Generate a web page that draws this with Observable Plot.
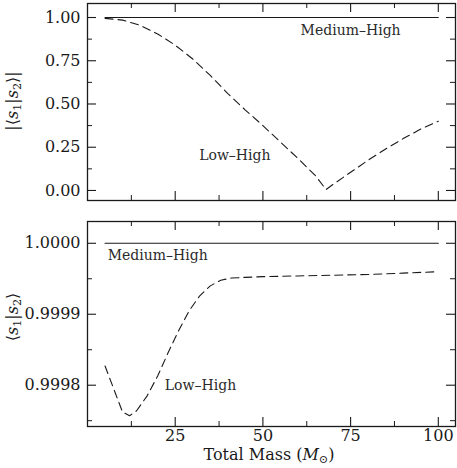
<!DOCTYPE html>
<html><head><meta charset="utf-8">
<script src="https://cdn.jsdelivr.net/npm/d3@7"></script>
<script src="https://cdn.jsdelivr.net/npm/@observablehq/plot@0.6"></script>
<style>
body{margin:0;background:#fff}
svg{display:block}
svg, svg text, svg tspan { font-family: "DejaVu Serif", "Liberation Serif", serif !important; }
</style>
</head><body><div id="chart"></div>
<script>
// ---- data ----
const topX = [5,10,15,20,25,30,35,40,45,50,55,60,65,68,70,75,80,85,90,95,100];
const topLowHigh = [0.995,0.985,0.955,0.905,0.84,0.76,0.665,0.56,0.465,0.375,0.28,0.185,0.085,0.005,0.035,0.105,0.175,0.24,0.3,0.355,0.40];
const topMedHigh = [1,1,1,1,1,1,1,1,1,1,1,1,1,1,1,1,1,1,1,1,1];

const botX = [5,8,10,12,14,17,20,23,26,29,32,35,38,41,45,50,60,70,80,90,100];
const botLowHigh = [0.999827,0.999788,0.999762,0.999757,0.999764,0.999785,0.999813,0.999846,0.999877,0.999905,0.999926,0.99994,0.999948,0.999951,0.999952,0.999953,0.999954,0.999955,0.999956,0.999958,0.99996];
const botMedHigh = [1,1,1,1,1,1,1,1,1,1,1,1,1,1,1,1,1,1,1,1,1];

const xMajor = [25,50,75,100];
const xMinor = [12.5,37.5,62.5,87.5];
const topYMajor = [0,0.25,0.5,0.75,1];
const topYMinor = [0.125,0.375,0.625,0.875];
const botYMajor = [0.9998,0.9999,1.0];
const botYMinor = [0.99975,0.99985,0.99995];

const topLabelText = ["Medium–High","Low–High"];
const topLabelX = [75,42];
const topLabelY = [0.925,0.2];
const botLabelText = ["Medium–High","Low–High"];
const botLabelX = [20,32.2];
const botLabelY = [0.999983,0.9998];

const ink = "#1a1a1a";
const FONT = "DejaVu Serif";
const W = 457, ML = 87, MR = 2;

function panel(o) {
  const H = o.height - o.marginTop - o.marginBottom;
  const PW = W - ML - MR;
  const marks = [
    Plot.ruleX(xMajor, {stroke: ink, strokeWidth: 1.1, insetBottom: H - 9}),
    Plot.ruleX(xMajor, {stroke: ink, strokeWidth: 1.1, insetTop: H - 9}),
    Plot.ruleX(xMinor, {stroke: ink, strokeWidth: 1, insetBottom: H - 5}),
    Plot.ruleX(xMinor, {stroke: ink, strokeWidth: 1, insetTop: H - 5}),
    Plot.ruleY(o.yMajor, {stroke: ink, strokeWidth: 1.1, insetRight: PW - 9}),
    Plot.ruleY(o.yMajor, {stroke: ink, strokeWidth: 1.1, insetLeft: PW - 9}),
    Plot.ruleY(o.yMinor, {stroke: ink, strokeWidth: 1, insetRight: PW - 5}),
    Plot.ruleY(o.yMinor, {stroke: ink, strokeWidth: 1, insetLeft: PW - 5}),
    Plot.axisY({ticks: o.yMajor, tickFormat: o.yFormat, tickSize: 0, tickPadding: 7, label: null, fill: ink}),
    Plot.line(o.x, {x: o.x, y: o.med, stroke: ink, strokeWidth: 1.1}),
    Plot.line(o.x, {x: o.x, y: o.low, stroke: ink, strokeWidth: 1.1, strokeDasharray: "8,5"}),
    Plot.text(o.lt, {x: o.lx, y: o.ly, text: o.lt, fontSize: 14, fill: "#2a2a2a"}),
    Plot.frame({stroke: ink, strokeWidth: 1.3})
  ];
  if (o.xAxis) marks.push(Plot.axisX({ticks: xMajor, tickFormat: d => String(d), tickSize: 0, tickPadding: 3, label: null, fill: ink}));
  return Plot.plot({
    width: W, height: o.height,
    marginLeft: ML, marginRight: MR, marginTop: o.marginTop, marginBottom: o.marginBottom,
    style: {fontFamily: FONT, fontSize: "16px", background: "#fff", color: ink},
    x: {domain: [0, 104.9], axis: o.xAxis ? undefined : null},
    y: {domain: o.yDomain},
    marks
  });
}

function mathLabel(sel, parts) {
  parts.forEach(([t, kind]) => {
    const ts = sel.append("tspan").text(t);
    if (kind === "i") ts.attr("font-style", "italic");
    if (kind === "sub") ts.attr("font-size", "0.7em").attr("baseline-shift", "-25%");
  });
}

const topPanel = panel({height: 210, marginTop: 3, marginBottom: 10,
  yDomain: [-0.058, 1.081], yMajor: topYMajor, yMinor: topYMinor, yFormat: d3.format(".2f"),
  x: topX, low: topLowHigh, med: topMedHigh, lt: topLabelText, lx: topLabelX, ly: topLabelY, xAxis: false});
const botPanel = panel({height: 258, marginTop: 11, marginBottom: 42,
  yDomain: [0.9997418, 1.0000307], yMajor: botYMajor, yMinor: botYMinor, yFormat: d3.format(".4f"),
  x: botX, low: botLowHigh, med: botMedHigh, lt: botLabelText, lx: botLabelX, ly: botLabelY, xAxis: true});

const root = document.getElementById("chart");
root.append(topPanel, botPanel);

const t1 = d3.select(topPanel).append("text")
  .attr("transform", "translate(18,101) rotate(-90)")
  .attr("text-anchor", "middle").attr("font-size", 16).attr("fill", ink);
mathLabel(t1, [["|⟨"],["s","i"],["1","sub"],["|"],["s","i"],["2","sub"],["⟩|"]]);

const t2 = d3.select(botPanel).append("text")
  .attr("transform", "translate(18,107) rotate(-90)")
  .attr("text-anchor", "middle").attr("font-size", 16).attr("fill", ink);
mathLabel(t2, [["⟨"],["s","i"],["1","sub"],["|"],["s","i"],["2","sub"],["⟩"]]);

const t3 = d3.select(botPanel).append("text")
  .attr("x", 269).attr("y", 250)
  .attr("text-anchor", "middle").attr("font-size", 16).attr("fill", ink);
mathLabel(t3, [["Total Mass ("],["M","i"],["⊙","sub"],[")"]]);
</script></body></html>
